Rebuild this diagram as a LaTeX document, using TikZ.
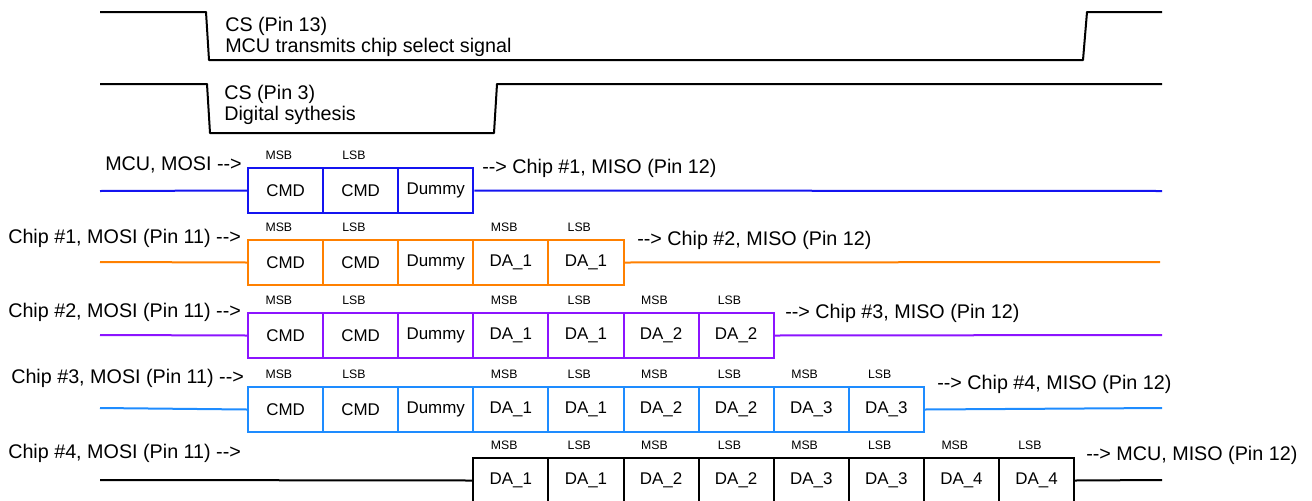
\documentclass[tikz,border=0pt]{standalone}
\usepackage{fontspec}
\setmainfont{Liberation Sans}[Ligatures=TeXOff]
\definecolor{sigblue}{RGB}{20,20,240}
\definecolor{sigorange}{RGB}{255,128,0}
\definecolor{sigpurple}{RGB}{140,20,255}
\definecolor{sigsky}{RGB}{30,140,255}
\begin{document}
\begin{tikzpicture}[x=0.75pt,y=-0.75pt,
  wire/.style={line width=1.5pt},
  cell/.style={draw, line width=1.5pt, minimum width=56.33pt, minimum height=33.75pt,
    inner sep=0pt, text=black, font=\fontsize{12.7}{14}\selectfont, anchor=north west},
  bitlbl/.style={font=\fontsize{9.2}{10}\selectfont, inner sep=0pt},
  lbl/.style={font=\fontsize{14.8}{17}\selectfont, inner sep=0pt, anchor=west}]
\useasboundingbox (0,0) rectangle (1312,500);

% chip select waveforms
\draw[wire,line join=round] (100,12) -- (206,12) -- (209,60) -- (1083,60) -- (1087,12) -- (1162,12);
\node[lbl] (cs1a) at (225,26) {CS (Pin 13)};
\node[lbl] (cs1b) at (225,47) {MCU transmits chip select signal};

\draw[wire,line join=round] (100,84) -- (207,84) -- (210,133) -- (494,133) -- (497,84) -- (1162,84);
\node[lbl] (cs2a) at (224,94) {CS (Pin 3)};
\node[lbl] (cs2b) at (224,115) {Digital sythesis};

% row 1: MCU MOSI
\foreach \t [count=\i] in {CMD,CMD,Dummy}
  \node[cell,draw=sigblue] (r1c\i) at ({247+75.1*(\i-1)},167) {\t};
\foreach \i/\b in {1/MSB,2/LSB}
  \node[bitlbl] at ([xshift=-5pt,yshift=8.5pt]r1c\i.north) {\b};
\coordinate (r1s) at (100,191);
\coordinate (r1e) at (1162,191);
\draw[wire,sigblue] (r1s) -- (r1c1.west);
\draw[wire,sigblue] (r1c3.east) -- (r1e);
\node[lbl] (r1in) at (105,165) {MCU, MOSI -->};
\node[lbl] (r1out) at (482,168) {--> Chip \#1, MISO (Pin 12)};

% row 2: chip 1
\foreach \t [count=\i] in {CMD,CMD,Dummy,DA\_1,DA\_1}
  \node[cell,draw=sigorange] (r2c\i) at ({247+75.1*(\i-1)},239) {\t};
\foreach \i/\b in {1/MSB,2/LSB,4/MSB,5/LSB}
  \node[bitlbl] at ([xshift=-5pt,yshift=8.5pt]r2c\i.north) {\b};
\coordinate (r2s) at (100,262);
\coordinate (r2e) at (1160,262);
\draw[wire,sigorange] (r2s) -- (r2c1.west);
\draw[wire,sigorange] (r2c5.east) -- (r2e);
\node[lbl] (r2in) at (8,238) {Chip \#1, MOSI (Pin 11) -->};
\node[lbl] (r2out) at (637,240) {--> Chip \#2, MISO (Pin 12)};

% row 3: chip 2
\foreach \t [count=\i] in {CMD,CMD,Dummy,DA\_1,DA\_1,DA\_2,DA\_2}
  \node[cell,draw=sigpurple] (r3c\i) at ({247+75.1*(\i-1)},312) {\t};
\foreach \i/\b in {1/MSB,2/LSB,4/MSB,5/LSB,6/MSB,7/LSB}
  \node[bitlbl] at ([xshift=-5pt,yshift=8.5pt]r3c\i.north) {\b};
\coordinate (r3s) at (100,335);
\coordinate (r3e) at (1162,335);
\draw[wire,sigpurple] (r3s) -- (r3c1.west);
\draw[wire,sigpurple] (r3c7.east) -- (r3e);
\node[lbl] (r3in) at (8,312) {Chip \#2, MOSI (Pin 11) -->};
\node[lbl] (r3out) at (785,313) {--> Chip \#3, MISO (Pin 12)};

% row 4: chip 3
\foreach \t [count=\i] in {CMD,CMD,Dummy,DA\_1,DA\_1,DA\_2,DA\_2,DA\_3,DA\_3}
  \node[cell,draw=sigsky] (r4c\i) at ({247+75.1*(\i-1)},386) {\t};
\foreach \i/\b in {1/MSB,2/LSB,4/MSB,5/LSB,6/MSB,7/LSB,8/MSB,9/LSB}
  \node[bitlbl] at ([xshift=-5pt,yshift=8.5pt]r4c\i.north) {\b};
\coordinate (r4s) at (100,408);
\coordinate (r4e) at (1162,408);
\draw[wire,sigsky] (r4s) -- (r4c1.west);
\draw[wire,sigsky] (r4c9.east) -- (r4e);
\node[lbl] (r4in) at (11,378) {Chip \#3, MOSI (Pin 11) -->};
\node[lbl] (r4out) at (937,384) {--> Chip \#4, MISO (Pin 12)};

% row 5: chip 4
\foreach \t [count=\i] in {DA\_1,DA\_1,DA\_2,DA\_2,DA\_3,DA\_3,DA\_4,DA\_4}
  \node[cell,draw=black] (r5c\i) at ({472.3+75.1*(\i-1)},457) {\t};
\foreach \i/\b in {1/MSB,2/LSB,3/MSB,4/LSB,5/MSB,6/LSB,7/MSB,8/LSB}
  \node[bitlbl] at ([xshift=-5pt,yshift=8.5pt]r5c\i.north) {\b};
\coordinate (r5s) at (100,480);
\coordinate (r5e) at (1162,480);
\draw[wire] (r5s) -- (r5c1.west);
\draw[wire] (r5c8.east) -- (r5e);
\node[lbl] (r5in) at (8,453) {Chip \#4, MOSI (Pin 11) -->};
\node[lbl] (r5out) at (1086,455) {--> MCU, MISO (Pin 12)};
\end{tikzpicture}
\end{document}
